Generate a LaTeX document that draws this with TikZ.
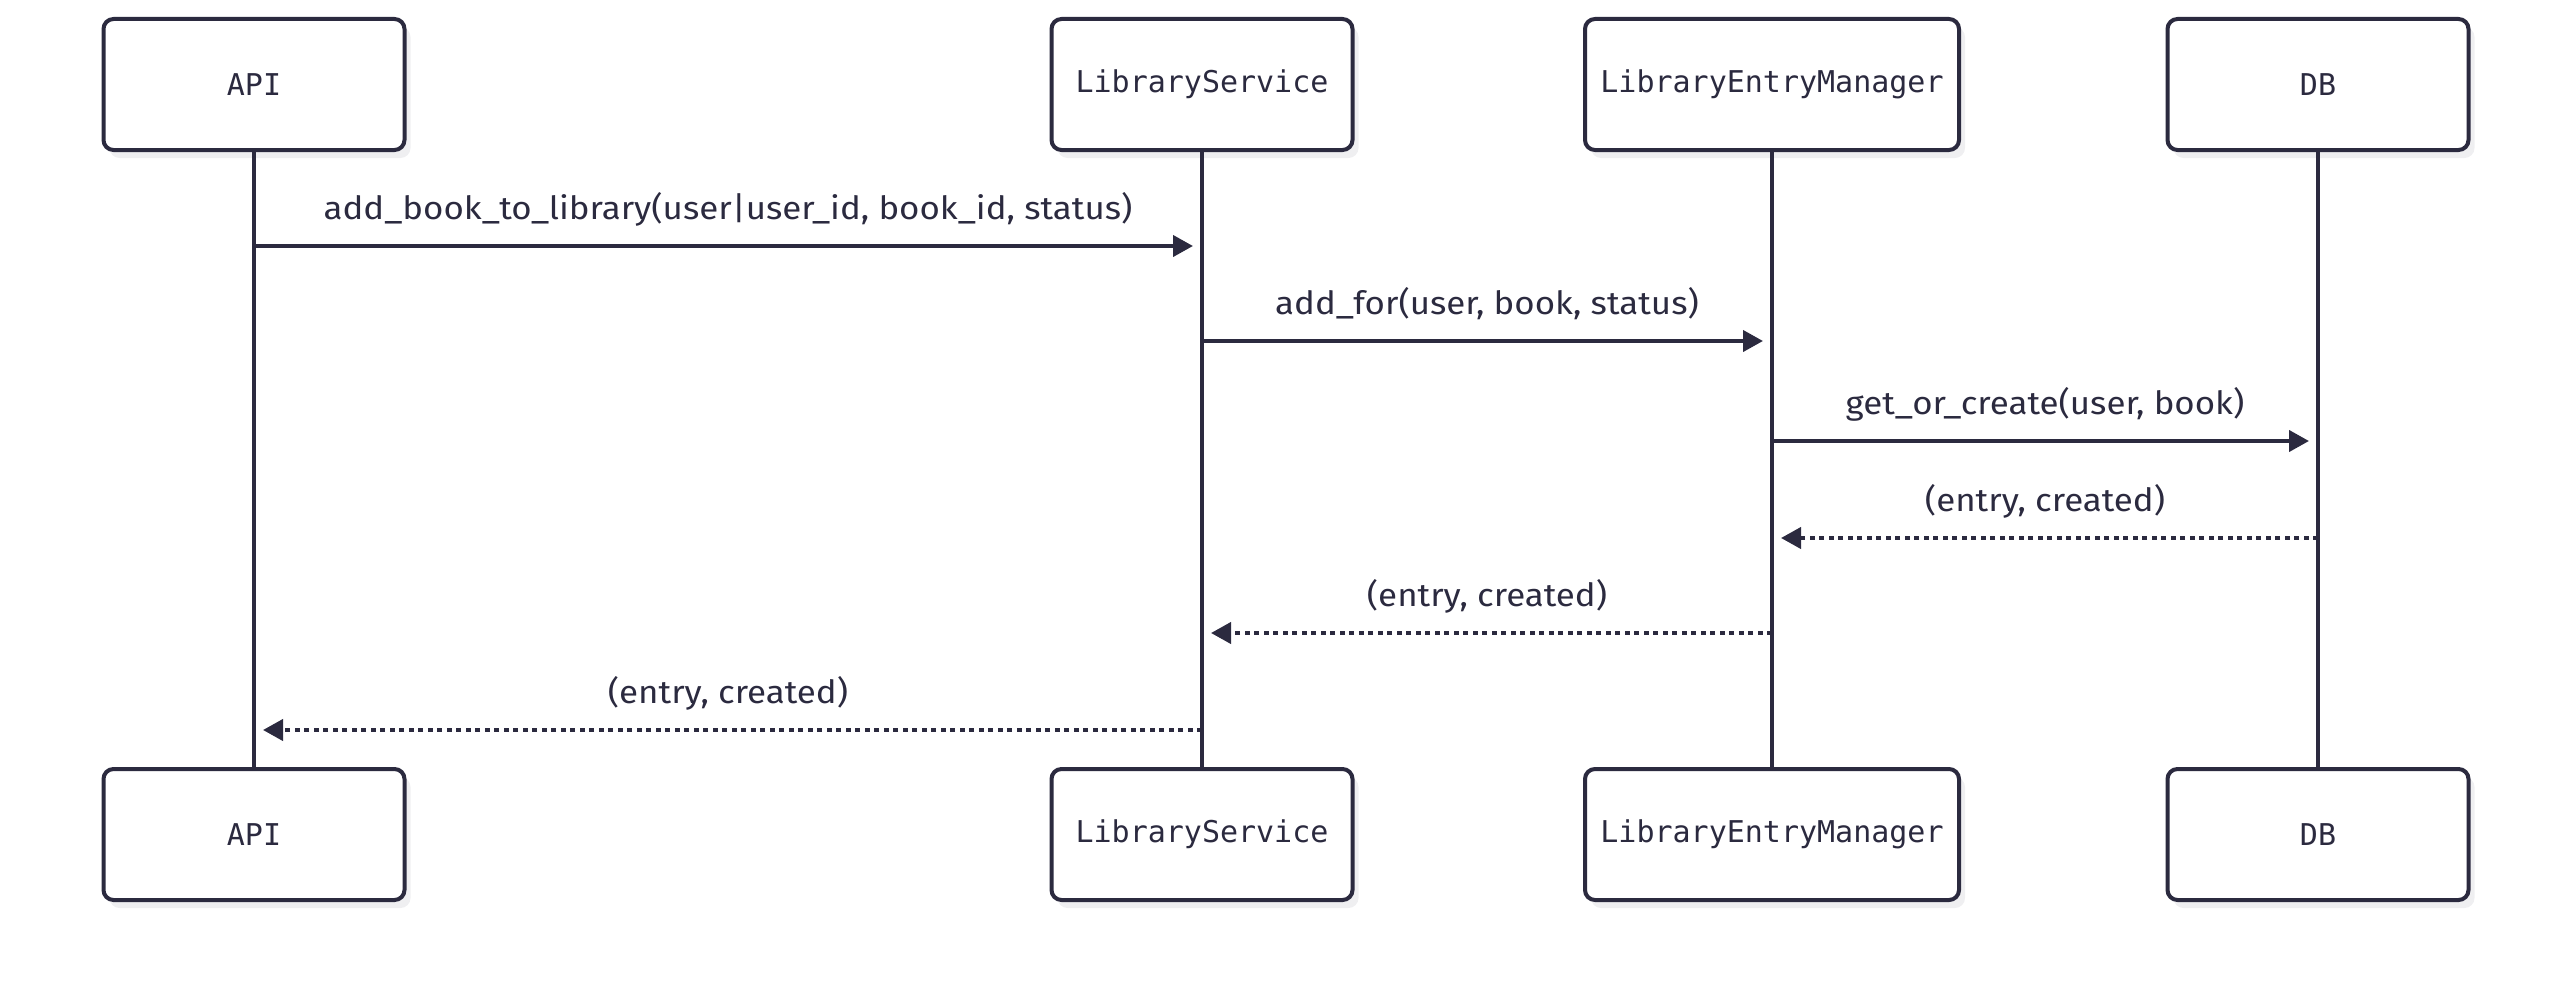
\documentclass[tikz,border=0pt]{standalone}
\usepackage{fontspec}
\setmainfont{Fira Sans}
\setmonofont{DejaVu Sans Mono}
\newfontfamily\msgfont[FakeStretch=1.09]{Fira Sans}
\usepackage{tikz}
\usetikzlibrary{arrows.meta,shadows}
\definecolor{ink}{HTML}{2B2A3F}
\definecolor{shade}{HTML}{EFEFF1}

\begin{document}
\begin{tikzpicture}[x=1pt, y=-1pt,
actor/.style={rectangle, rounded corners=10pt, draw=ink, line width=4pt, fill=white, minimum width=301pt, minimum height=131pt, font=\ttfamily\fontsize{30}{35}\selectfont, text=ink, drop shadow={shadow xshift=6pt, shadow yshift=-8pt, fill=shade, opacity=1}},
lifeline/.style={draw=ink, line width=3.2pt},
msg/.style={draw=ink, line width=4pt, shorten >=9pt, -{Triangle[length=20pt, width=21pt]}},
reply/.style={msg, dash pattern=on 5pt off 4.5pt},
msglabel/.style={midway, yshift=37pt, text=ink, font=\msgfont\fontsize{32}{37}\selectfont},
]
\useasboundingbox (0,0) rectangle (2572,982);
%Nodes
\node[actor] (apitop) at (254,84.5) {API};
\node[actor] (svctop) at (1202,84.5) {LibraryService};
\node[actor, minimum width=374pt] (mgrtop) at (1772,84.5) {LibraryEntryManager};
\node[actor] (dbtop) at (2318,84.5) {DB};
\node[actor] (apibot) at (254,834.5) {API};
\node[actor] (svcbot) at (1202,834.5) {LibraryService};
\node[actor, minimum width=374pt] (mgrbot) at (1772,834.5) {LibraryEntryManager};
\node[actor] (dbbot) at (2318,834.5) {DB};
%Lifelines
\draw[lifeline] (apitop.south) -- (apibot.north);
\draw[lifeline] (svctop.south) -- (svcbot.north);
\draw[lifeline] (mgrtop.south) -- (mgrbot.north);
\draw[lifeline] (dbtop.south) -- (dbbot.north);
%Messages
\draw[msg] (apitop.south |- 0,246) -- (svctop.south |- 0,246) node[msglabel] {add\_book\_to\_library(user|user\_id, book\_id, status)};
\draw[msg] (svctop.south |- 0,341) -- (mgrtop.south |- 0,341) node[msglabel] {add\_for(user, book, status)};
\draw[msg] (mgrtop.south |- 0,441) -- (dbtop.south |- 0,441) node[msglabel] {get\_or\_create(user, book)};
\draw[reply] (dbtop.south |- 0,538) -- (mgrtop.south |- 0,538) node[msglabel] {(entry, created)};
\draw[reply] (mgrtop.south |- 0,633) -- (svctop.south |- 0,633) node[msglabel] {(entry, created)};
\draw[reply] (svctop.south |- 0,730) -- (apitop.south |- 0,730) node[msglabel] {(entry, created)};
\end{tikzpicture}
\end{document}
